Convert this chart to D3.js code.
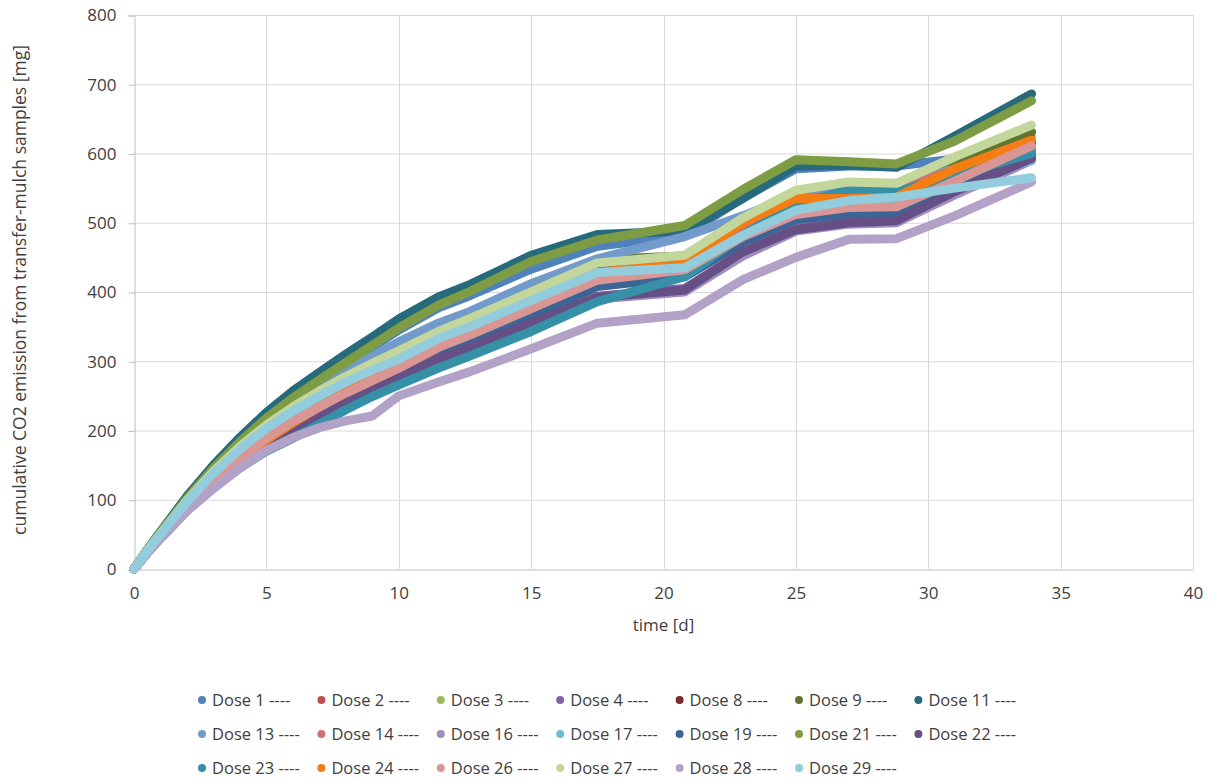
<!DOCTYPE html>
<html lang="en">
<head>
<meta charset="utf-8">
<title>Cumulative CO2 emission</title>
<script src="https://d3js.org/d3.v7.min.js"></script>
<style>
body { margin: 0; background: #fff; }
text { font-family: "Open Sans", sans-serif; }
</style>
</head>
<body>
<div id="container"></div>
<script>
// time points [d] shared by all series
const days = [0, 0.5, 1, 2, 3, 4, 5, 6, 7, 8, 9, 10, 11.5, 12.7, 15, 17.5, 20.8, 23, 25, 27, 28.8, 31, 33.9];

// cumulative CO2 [mg]
const dose1  = [0, 27, 52, 101, 144, 182, 216, 244, 270, 295, 320, 345, 377, 395, 433, 466, 482, 536, 578, 582, 582, 592, 600];
const dose2  = [0, 25, 47, 90, 127, 161, 190, 214, 236, 255, 274, 292, 322, 340, 378, 420, 434, 482, 520, 530, 530, 565, 605];
const dose3  = [0, 27, 51, 98, 140, 175, 206, 232, 255, 276, 295, 313, 341, 360, 398, 440, 450, 502, 542, 552, 552, 585, 625];
const dose4  = [0, 24, 46, 86, 121, 153, 180, 203, 224, 243, 261, 279, 306, 322, 357, 394, 405, 458, 493, 503, 505, 548, 596];
const dose8  = [0, 26, 50, 95, 134, 168, 197, 221, 243, 263, 281, 297, 326, 344, 384, 431, 446, 496, 532, 532, 534, 573, 615];
const dose9  = [0, 27, 52, 100, 142, 178, 209, 235, 258, 279, 299, 317, 346, 367, 405, 447, 452, 502, 542, 552, 549, 585, 631];
const dose11 = [0, 28, 54, 105, 150, 190, 226, 257, 284, 310, 335, 361, 393, 411, 453, 483, 488, 535, 582, 583, 580, 625, 686];
const dose13 = [0, 27, 52, 100, 142, 179, 211, 238, 262, 285, 307, 328, 355, 372, 412, 448, 480, 510, 540, 552, 553, 578, 608];
const dose14 = [0, 25, 47, 90, 128, 162, 191, 215, 237, 257, 275, 293, 323, 341, 380, 422, 438, 488, 530, 545, 553, 575, 607];
const dose16 = [0, 24, 45, 85, 119, 150, 176, 198, 219, 238, 256, 274, 300, 318, 352, 390, 400, 452, 488, 498, 500, 540, 590];
const dose17 = [0, 26, 50, 96, 136, 171, 201, 226, 248, 267, 285, 301, 330, 348, 385, 425, 432, 478, 515, 530, 535, 560, 590];
const dose19 = [0, 24, 46, 87, 123, 155, 182, 205, 226, 245, 263, 281, 309, 326, 365, 408, 422, 472, 505, 513, 515, 556, 600];
const dose21 = [0, 27, 53, 102, 146, 184, 218, 247, 273, 298, 323, 348, 381, 401, 444, 475, 496, 548, 591, 588, 585, 618, 676];
const dose22 = [0, 24, 45, 85, 120, 151, 178, 201, 222, 241, 259, 277, 304, 320, 355, 392, 403, 458, 490, 500, 503, 545, 593];
const dose23 = [0, 23, 44, 84, 117, 146, 170, 189, 209, 230, 249, 266, 290, 308, 343, 386, 422, 482, 527, 547, 545, 568, 600];
const dose24 = [0, 24, 45, 86, 123, 157, 186, 211, 234, 255, 275, 295, 325, 342, 382, 428, 443, 500, 535, 535, 537, 578, 619];
const dose26 = [0, 25, 47, 89, 126, 160, 189, 213, 234, 254, 272, 290, 320, 338, 376, 417, 432, 480, 512, 522, 523, 560, 611];
const dose27 = [0, 27, 51, 99, 141, 177, 208, 234, 257, 278, 297, 315, 343, 362, 400, 442, 453, 507, 547, 559, 557, 595, 641];
const dose28 = [0, 23, 44, 84, 116, 146, 171, 190, 204, 214, 221, 250, 270, 285, 318, 355, 367, 418, 450, 476, 477, 510, 559];
const dose29 = [0, 26, 50, 97, 138, 173, 203, 228, 250, 270, 287, 303, 333, 350, 388, 428, 435, 482, 518, 532, 537, 550, 565];

const seriesNames = ["Dose 1", "Dose 2", "Dose 3", "Dose 4", "Dose 8", "Dose 9", "Dose 11",
    "Dose 13", "Dose 14", "Dose 16", "Dose 17", "Dose 19", "Dose 21", "Dose 22",
    "Dose 23", "Dose 24", "Dose 26", "Dose 27", "Dose 28", "Dose 29"];
const seriesValues = [dose1, dose2, dose3, dose4, dose8, dose9, dose11,
    dose13, dose14, dose16, dose17, dose19, dose21, dose22,
    dose23, dose24, dose26, dose27, dose28, dose29];
const seriesColors = ["#4f81bd", "#c0504d", "#9bbb59", "#8064a2", "#772c2a", "#5f7530", "#276a7c",
    "#729aca", "#cd7371", "#a08cc0", "#6fbdd3", "#3a6595", "#7e9c43", "#654f85",
    "#3590a8", "#f47d14", "#d99694", "#c3d69b", "#b3a2c7", "#93cddd"];

const xTicks = [0, 5, 10, 15, 20, 25, 30, 35, 40];
const yTicks = [0, 100, 200, 300, 400, 500, 600, 700, 800];
const xTitle = "time [d]";
const yTitle = "cumulative CO2 emission from transfer-mulch samples [mg]";

const width = 1215;
const height = 782;
const plot = {left: 134, right: 1193, top: 15, bottom: 569};

const svg = d3.select("div#container").append("svg")
    .attr("width", width)
    .attr("height", height);

const xScale = d3.scaleLinear().domain([0, 40]).range([plot.left, plot.right]);
const yScale = d3.scaleLinear().domain([0, 800]).range([plot.bottom, plot.top]);

// gridlines
svg.append("g")
    .selectAll("line.hgrid")
    .data(yTicks.slice(1))
    .enter()
    .append("line")
    .attr("x1", plot.left)
    .attr("x2", plot.right)
    .attr("y1", function(d) { return yScale(d) + 0.5; })
    .attr("y2", function(d) { return yScale(d) + 0.5; })
    .style("stroke", "#d9d9d9");

svg.append("g")
    .selectAll("line.vgrid")
    .data(xTicks.slice(1))
    .enter()
    .append("line")
    .attr("x1", function(d) { return Math.round(xScale(d)) + 0.5; })
    .attr("x2", function(d) { return Math.round(xScale(d)) + 0.5; })
    .attr("y1", plot.top)
    .attr("y2", plot.bottom)
    .style("stroke", "#d9d9d9");

// axes
const yaxis = d3.axisLeft(yScale)
    .tickValues(yTicks)
    .tickSize(6)
    .tickPadding(12);
const xaxis = d3.axisBottom(xScale)
    .tickValues(xTicks)
    .tickSize(0)
    .tickPadding(17);

const gy = svg.append("g")
    .attr("transform", "translate(" + (plot.left + 0.5) + ",0.5)")
    .call(yaxis);
const gx = svg.append("g")
    .attr("transform", "translate(0," + (plot.bottom + 0.5) + ")")
    .call(xaxis);

[gx, gy].forEach(function(g) {
    g.select(".domain").style("stroke", "#bfbfbf");
    g.selectAll(".tick line").style("stroke", "#bfbfbf");
    g.selectAll(".tick text")
        .style("font-family", "'Open Sans', sans-serif")
        .style("font-size", "17px")
        .style("fill", "#404040");
});

svg.append("text")
    .attr("x", (plot.left + plot.right) / 2)
    .attr("y", 631)
    .attr("text-anchor", "middle")
    .style("font-size", "17px")
    .style("fill", "#404040")
    .text(xTitle);

svg.append("text")
    .attr("transform", "translate(26," + ((plot.top + plot.bottom) / 2 - 2) + ") rotate(-90)")
    .attr("text-anchor", "middle")
    .style("font-size", "17.5px")
    .style("fill", "#404040")
    .text(yTitle);

// series
const slices = seriesNames.map(function(name, i) {
    return {
        id: name,
        color: seriesColors[i],
        values: days.map(function(t, j) { return {day: t, co2: seriesValues[i][j]}; })
    };
});

const line = d3.line()
    .curve(d3.curveLinear)
    .x(function(d) { return xScale(d.day); })
    .y(function(d) { return yScale(d.co2); });

svg.append("g")
    .selectAll("path")
    .data(slices)
    .enter()
    .append("path")
    .attr("d", function(d) { return line(d.values); })
    .style("fill", "none")
    .style("stroke", function(d) { return d.color; })
    .style("stroke-width", 9)
    .style("stroke-linecap", "round")
    .style("stroke-linejoin", "round");

// legend, 7 per row
const perRow = 7;
const legend = svg.append("g")
    .selectAll("g")
    .data(slices)
    .enter()
    .append("g")
    .attr("transform", function(d, i) {
        return "translate(" + (202 + (i % perRow) * 119.4) + "," + (700 + Math.floor(i / perRow) * 34) + ")";
    });

legend.append("circle")
    .attr("r", 4)
    .style("fill", function(d) { return d.color; });

legend.append("text")
    .attr("x", 10)
    .attr("dy", "0.35em")
    .style("font-size", "16.5px")
    .style("fill", "#404040")
    .text(function(d) { return d.id + " ----"; });
</script>
</body>
</html>
